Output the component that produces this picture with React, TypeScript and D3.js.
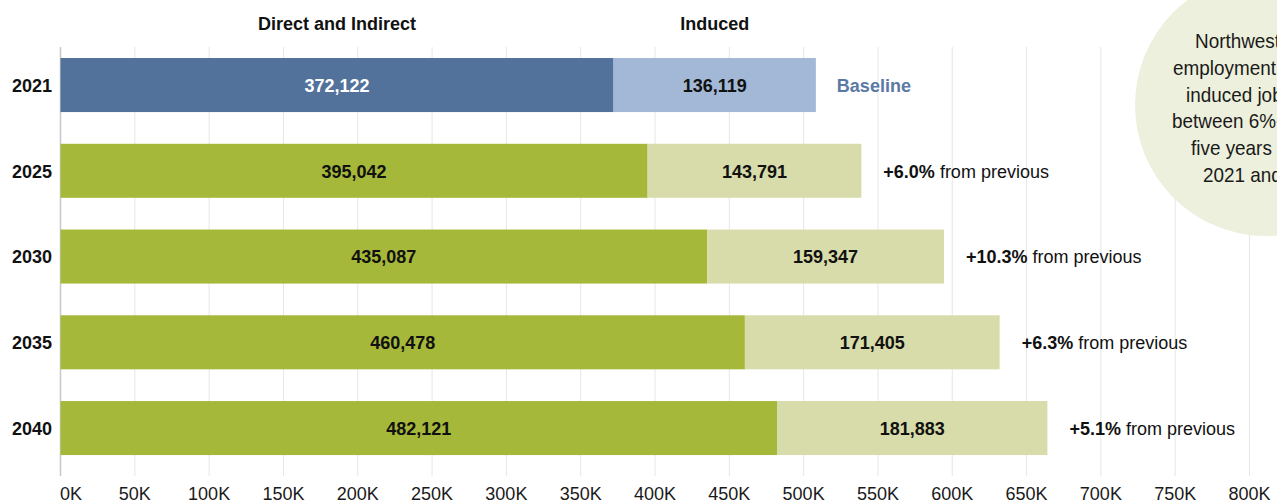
import React from "react";
import * as d3 from "d3";

const years = ["2021", "2025", "2030", "2035", "2040"];
const directIndirect = [372122, 395042, 435087, 460478, 482121];
const induced = [136119, 143791, 159347, 171405, 181883];
const changeLabels = ["Baseline", "+6.0%", "+10.3%", "+6.3%", "+5.1%"];
const xTicks = [0, 50000, 100000, 150000, 200000, 250000, 300000, 350000, 400000, 450000, 500000, 550000, 600000, 650000, 700000, 750000, 800000];
const calloutLines = [
  "Northwest Indiana",
  "employment including",
  "induced jobs grows",
  "between 6%-10% every",
  "five years between",
  "2021 and 2040.",
];
const calloutStarts = [1195, 1173, 1186, 1172, 1191, 1203];

const W = 1277;
const H = 502;
const FONT = "'Liberation Sans', Arial, Helvetica, sans-serif";
const FS = 18;

const C_DARK_BLUE = "#52729c";
const C_LIGHT_BLUE = "#a3b8d6";
const C_GREEN = "#a6b83a";
const C_LIGHT_GREEN = "#d8dcaa";
const C_BASE_LABEL = "#5a79a5";
const C_CIRCLE = "#edf0dc";

export default function App() {
  const x = d3.scaleLinear().domain([0, 800000]).range([60.5, 1249.5]);
  const y = d3.scaleBand<string>().domain(years).range([26.3, 486.8]).padding(0.37);
  const bw = y.bandwidth();
  const fmt = d3.format(",");
  const tickFmt = (v: number) => `${v / 1000}K`;

  return (
    <div style={{ position: "absolute", left: 0, top: 0, width: W, height: H, background: "#fff" }}>
      <svg width={W} height={H} style={{ display: "block", fontFamily: FONT }}>
        {/* gridlines */}
        {xTicks.map((t, i) => (
          <line
            key={t}
            x1={x(t)}
            x2={x(t)}
            y1={47}
            y2={476}
            stroke={i === 0 ? "#c8c8c8" : "#e6e6e6"}
            strokeWidth={i === 0 ? 1.5 : 1}
          />
        ))}
        {/* callout circle */}
        <circle cx={1266} cy={105} r={131} fill={C_CIRCLE} />
        {calloutLines.map((l, i) => (
          <text
            key={i}
            transform={`translate(${calloutStarts[i]},${48 + i * 26.8}) scale(0.9,1)`}
            fontSize={21}
            fill="#1a1a1a"
          >
            {l}
          </text>
        ))}
        {/* series headers */}
        <text x={(x(0) + x(directIndirect[0])) / 2} y={30} textAnchor="middle" fontWeight="bold" fontSize={FS} fill="#111">
          Direct and Indirect
        </text>
        <text
          x={(x(directIndirect[0]) + x(directIndirect[0] + induced[0])) / 2}
          y={30}
          textAnchor="middle"
          fontWeight="bold"
          fontSize={FS}
          fill="#111"
        >
          Induced
        </text>
        {/* bars */}
        {years.map((yr, i) => {
          const top = y(yr)!;
          const cy = top + bw / 2;
          const d = directIndirect[i];
          const ind = induced[i];
          const isBase = i === 0;
          const end = x(d + ind);
          return (
            <g key={yr}>
              <rect x={x(0)} y={top} width={x(d) - x(0)} height={bw} fill={isBase ? C_DARK_BLUE : C_GREEN} />
              <rect x={x(d)} y={top} width={x(d + ind) - x(d)} height={bw} fill={isBase ? C_LIGHT_BLUE : C_LIGHT_GREEN} />
              <text x={52} y={cy} dy="0.38em" textAnchor="end" fontWeight="bold" fontSize={FS} fill="#111">
                {yr}
              </text>
              <text
                x={(x(0) + x(d)) / 2}
                y={cy}
                dy="0.38em"
                textAnchor="middle"
                fontWeight="bold"
                fontSize={FS}
                fill={isBase ? "#ffffff" : "#111"}
              >
                {fmt(d)}
              </text>
              <text x={(x(d) + x(d + ind)) / 2} y={cy} dy="0.38em" textAnchor="middle" fontWeight="bold" fontSize={FS} fill="#111">
                {fmt(ind)}
              </text>
              {isBase ? (
                <text x={end + 21} y={cy} dy="0.38em" fontWeight="bold" fontSize={FS} fill={C_BASE_LABEL}>
                  {changeLabels[i]}
                </text>
              ) : (
                <text x={end + 22} y={cy} dy="0.38em" fontSize={FS} fill="#111">
                  <tspan fontWeight="bold">{changeLabels[i]}</tspan>
                  <tspan> from previous</tspan>
                </text>
              )}
            </g>
          );
        })}
        {/* x axis labels */}
        {xTicks.map((t, i) => (
          <text key={t} x={x(t) - (i === 0 ? 0.5 : 0)} y={500} textAnchor={i === 0 ? "start" : "middle"} fontSize={FS} fill="#1a1a1a">
            {tickFmt(t)}
          </text>
        ))}
      </svg>
    </div>
  );
}
